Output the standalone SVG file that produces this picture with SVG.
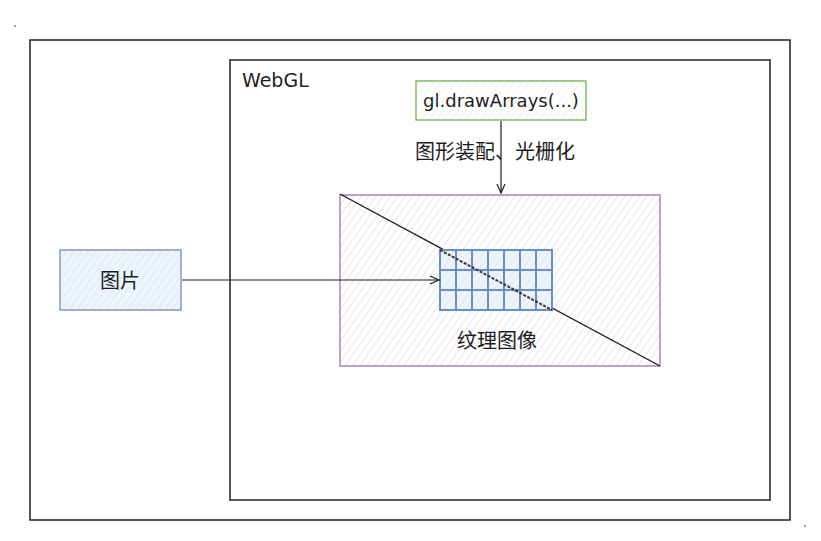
<svg xmlns="http://www.w3.org/2000/svg" width="821" height="541" viewBox="0 0 821 541">
<defs>
<pattern id="hp" width="6" height="6" patternUnits="userSpaceOnUse" patternTransform="rotate(35)">
<line x1="0" y1="0" x2="0" y2="6" stroke="#d3c6dc" stroke-width="1"/>
</pattern>
<pattern id="hb" width="6" height="6" patternUnits="userSpaceOnUse" patternTransform="rotate(35)">
<rect width="6" height="6" fill="#eef4fc"/>
<line x1="0" y1="0" x2="0" y2="6" stroke="#cbdcf4" stroke-width="1"/>
</pattern>
<pattern id="hg" width="6" height="6" patternUnits="userSpaceOnUse" patternTransform="rotate(35)">
<line x1="0" y1="0" x2="0" y2="6" stroke="#e2eedd" stroke-width="1"/>
</pattern>
<marker id="arr" markerWidth="12" markerHeight="12" refX="10" refY="6" orient="auto" markerUnits="userSpaceOnUse">
<path d="M1,2 L10,6 L1,10" fill="none" stroke="#1e1e1e" stroke-width="1.2"/>
</marker>
</defs>
<style>
text{font-family:"Noto Sans CJK SC","Liberation Sans",sans-serif;fill:#1e1e1e;}
.frame{fill:none;stroke:#1e1e1e;stroke-width:1.5;}
.conn{fill:none;stroke:#1e1e1e;stroke-width:1.2;}
</style>
<rect width="821" height="541" fill="#ffffff"/>
<circle cx="15" cy="26" r="0.8" fill="#1e1e1e"/>
<circle cx="805" cy="526" r="0.8" fill="#1e1e1e"/>
<g id="outer">
<rect class="frame" x="30" y="40" width="760" height="480"/>
</g>
<g id="webgl">
<rect class="frame" x="230" y="60" width="540" height="440"/>
<text x="242" y="87" font-size="19" style="font-family:'DejaVu Sans',sans-serif">WebGL</text>
</g>
<g id="texture">
<rect x="340" y="195" width="320" height="171" fill="url(#hp)" stroke="#9c6fb3" stroke-width="1.3"/>
<line x1="340" y1="194" x2="660" y2="366" stroke="#1e1e1e" stroke-width="1.4"/>
<text x="497" y="348" font-size="20" text-anchor="middle">纹理图像</text>
</g>
<g id="grid">
<rect x="440" y="250" width="112" height="60" fill="url(#hb)" stroke="#6c8ebf" stroke-width="2"/>
<path d="M456,250V310M472,250V310M488,250V310M504,250V310M520,250V310M536,250V310M440,270H552M440,290H552" fill="none" stroke="#6c8ebf" stroke-width="2"/>
<line x1="440" y1="250" x2="552" y2="310" stroke="#3a3a3a" stroke-width="2" stroke-dasharray="3 1.5"/>
</g>
<g id="draw">
<rect x="416" y="81" width="170" height="39" fill="url(#hg)" stroke="#70b050" stroke-width="1.3"/>
<text x="501" y="107" font-size="18" text-anchor="middle" style="font-family:'DejaVu Sans',sans-serif">gl.drawArrays(...)</text>
</g>
<g id="image">
<rect x="60" y="250" width="121" height="60" fill="url(#hb)" stroke="#6c8ebf" stroke-width="1.3"/>
<text x="120" y="288" font-size="20" text-anchor="middle">图片</text>
</g>
<g id="connectors">
<line class="conn" x1="182" y1="280" x2="439" y2="280" marker-end="url(#arr)"/>
<line class="conn" x1="501" y1="121" x2="501" y2="193" marker-end="url(#arr)"/>
<text x="495" y="159" font-size="20" text-anchor="middle">图形装配、光栅化</text>
</g>
</svg>
